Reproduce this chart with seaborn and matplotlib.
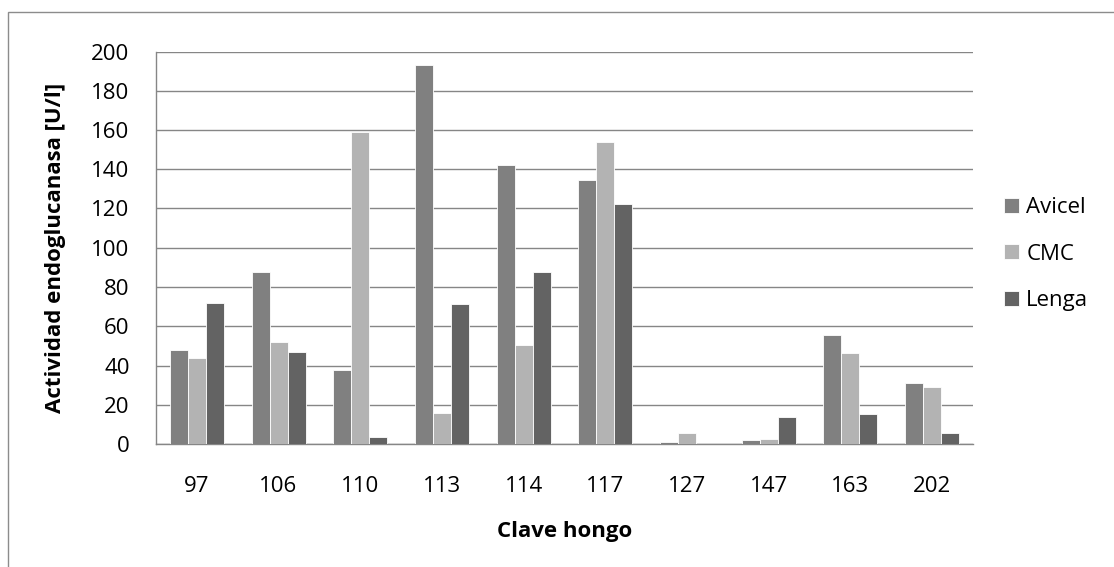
import matplotlib
matplotlib.use('Agg')  # no display
import matplotlib.pyplot as plt
import matplotlib.patches as patches
import numpy as np
import pandas as pd
import seaborn as sns

# data
claves = ['97', '106', '110', '113', '114', '117', '127', '147', '163', '202']
avicel = [48, 87.5, 37.7, 193, 142, 134.7, 1.0, 2.0, 55.3, 31.3]
cmc = [43.8, 52, 158.8, 15.6, 50.4, 153.7, 5.8, 2.7, 46.6, 29.2]
lenga = [72, 46.8, 3.6, 71.1, 87.5, 122.1, 0, 13.7, 15.4, 5.7]
sustratos = ['Avicel', 'CMC', 'Lenga']
colores = ['#808080', '#b3b3b3', '#636363']

df = pd.DataFrame({
    'clave': claves * 3,
    'valor': avicel + cmc + lenga,
    'sustrato': [s for s in sustratos for _ in claves],
})

sns.set_style('white')
plt.rcParams['font.family'] = ['Open Sans', 'DejaVu Sans']
plt.rcParams['text.color'] = 'black'
plt.rcParams['axes.labelcolor'] = 'black'

W, H = 1114, 567
fig = plt.figure(figsize=(W / 100, H / 100), dpi=100)
# plot area in pixels: x 156..973, y 51.5..444
ax = fig.add_axes([156 / W, (H - 444) / H, (973 - 156) / W, (444 - 51.5) / H])

sns.barplot(data=df, x='clave', y='valor', hue='sustrato', order=claves,
            hue_order=sustratos, palette=colores, saturation=1, width=0.66,
            edgecolor='white', linewidth=0.6, errorbar=None, ax=ax, zorder=3)

grid_col = '#868686'
ax.set_ylim(0, 200)
ax.set_xlim(-0.5, len(claves) - 0.5)
ax.set_yticks(np.arange(0, 201, 20))
ax.yaxis.grid(True, color=grid_col, linewidth=1.0)
ax.set_axisbelow(True)

for side in ['top', 'right']:
    ax.spines[side].set_visible(False)
for side in ['left', 'bottom']:
    ax.spines[side].set_color(grid_col)
    ax.spines[side].set_linewidth(1.0)

# ticks between categories, labels at centers
ax.set_xticks(np.arange(-0.5, len(claves), 1), minor=True)
ax.tick_params(axis='x', which='major', length=0, pad=23, labelsize=16,
               labelcolor='black')
ax.tick_params(axis='x', which='minor', length=6, width=1.0, color=grid_col,
               direction='out')
ax.tick_params(axis='y', length=6, width=1.0, color=grid_col,
               direction='out', pad=13, labelsize=16, labelcolor='black')

ax.set_xlabel('Clave hongo', fontsize=16, fontweight='bold')
ax.set_ylabel('Actividad endoglucanasa [U/l]', fontsize=16, fontweight='bold')
ax.xaxis.label.set_va('center')
ax.yaxis.label.set_va('center')
ax.xaxis.set_label_coords(0.5, (444 - 532) / (444 - 51.5))
ax.yaxis.set_label_coords((56 - 156) / 817, 0.5)

leg = ax.legend(loc='center left',
                bbox_to_anchor=((1004 - 156) / 817, (444 - 254) / (444 - 51.5)),
                frameon=False, fontsize=16, handlelength=0.68, handleheight=0.68,
                handletextpad=0.32, labelspacing=1.15, borderpad=0, borderaxespad=0)
for t in leg.get_texts():
    t.set_color('black')

# outer chart border (runs off right and bottom)
fig.patches.append(patches.Rectangle((7.5 / W, -0.1), 1.2, (H - 11.5) / H + 0.1,
                                     transform=fig.transFigure, fill=False,
                                     edgecolor='#8c8c8c', linewidth=1.0))

fig.savefig('out.png', dpi=100)
plt.close(fig)
